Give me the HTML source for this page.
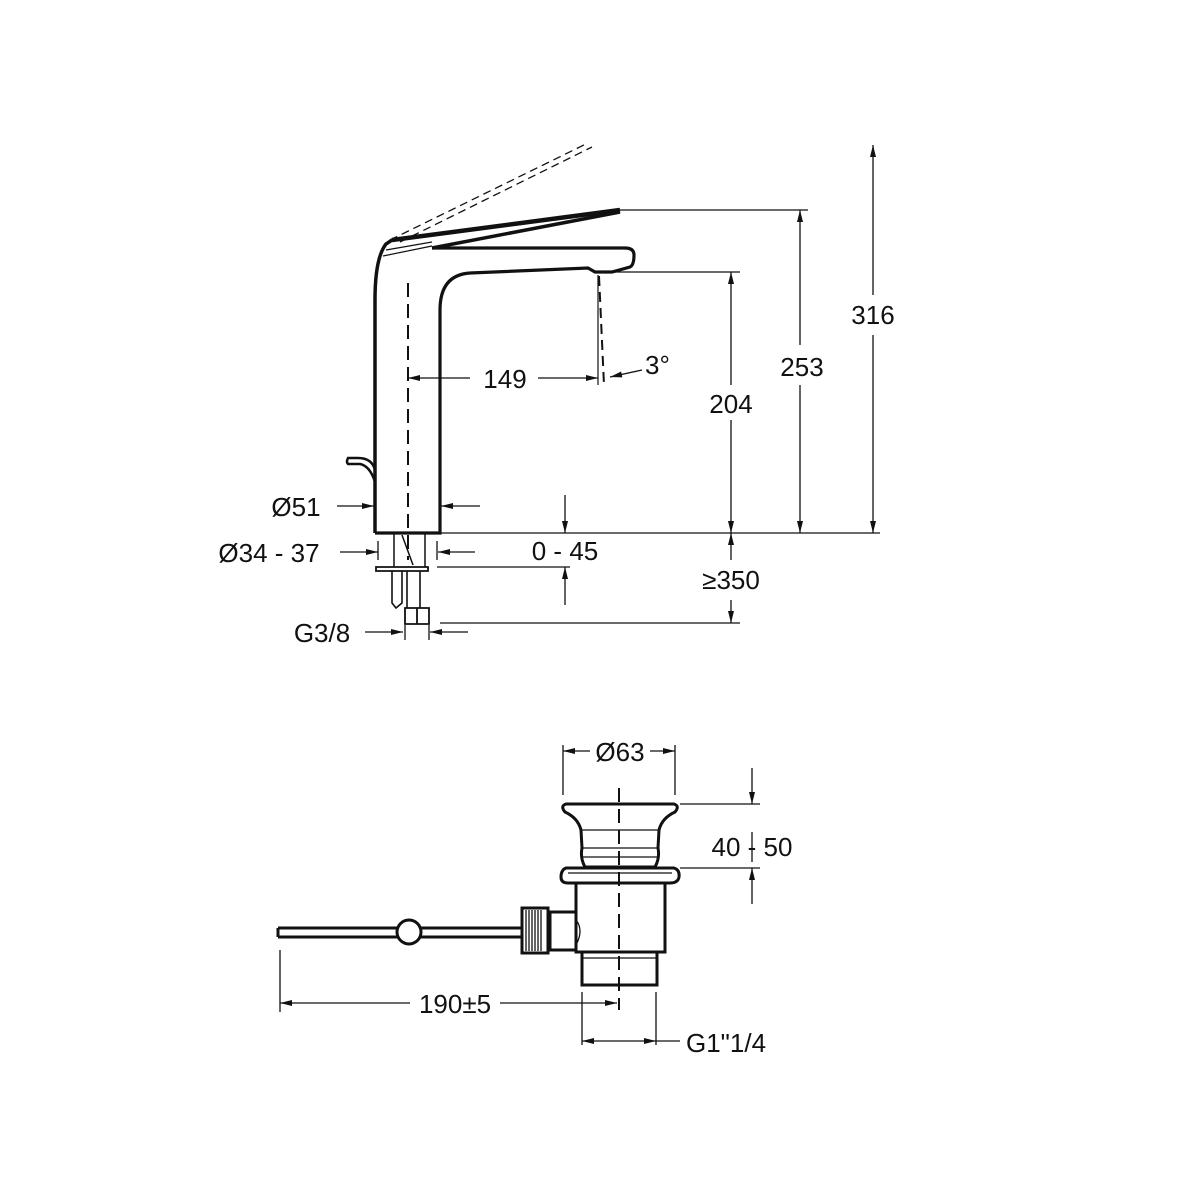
<!DOCTYPE html>
<html><head><meta charset="utf-8"><style>
html,body{margin:0;padding:0;background:#fff;}
svg{display:block;}
text{font-family:"Liberation Sans",sans-serif;font-size:26px;fill:#111;}
</style></head><body>
<svg width="1200" height="1200" viewBox="0 0 1200 1200" xmlns="http://www.w3.org/2000/svg">
<defs>
<marker id="a" viewBox="0 0 12 6" refX="12" refY="3" markerWidth="13" markerHeight="6" markerUnits="userSpaceOnUse" orient="auto"><path d="M0,0 L12,3 L0,6 Z" fill="#111"/></marker>
</defs>
<g fill="none" stroke="#111">
<path d="M375,533 L375,300 Q375,258 386,244 L392,240" stroke-width="3.5"/>
<path d="M375,533 L440,533 L440,310 Q440,275 470,273 L588,268 L595,272 L612,272 L630,267 Q634,265 634,255 Q634,248 625,248 L432,248" stroke-width="3.2"/>
<path d="M392,240 L620,210" stroke-width="4.5"/>
<path d="M432,248 L620,212" stroke-width="3.5"/>
<path d="M383,256 L432,246 M386,250 L432,242" stroke-width="1.2"/>
<path d="M390,240 L588,143 M400,242 L592,147" stroke-width="1.3" stroke-dasharray="8,5"/>
<path d="M375,470 Q372,458 358,458 L348,458 Q346,462 348,464 L360,464 Q370,466 375,482" stroke-width="2.5"/>
<path d="M408,283 L408,560" stroke-width="2" stroke-dasharray="14,7"/>
<path d="M598,275 L598,385" stroke-width="1.2"/>
<path d="M599,276 L604,385" stroke-width="2" stroke-dasharray="10,6"/>
<path d="M394,533 L394,567 M425,533 L425,567 M402,535 L413,565" stroke-width="1.5"/>
<path d="M376,567 L428,567 L428,571 L376,571 Z" stroke-width="1.8"/>
<path d="M392,571 L392,603 L396,608 L402,603 L402,571 M407,571 L407,608 M420,571 L420,608" stroke-width="1.6"/>
<path d="M405,608 L429,608 L429,624 L405,624 Z M417,608 L417,624" stroke-width="1.8"/>
<g stroke-width="1.3">
<path d="M620,210 L808,210 M612,272 L740,272 M440,533 L880,533 M437,567 L570,567 M440,623 L740,623"/>
<path d="M470,378 L408,378" marker-end="url(#a)"/>
<path d="M535,378 L598,378" marker-end="url(#a)"/>
<path d="M642,370 L610,377" marker-end="url(#a)"/>
<path d="M731,385 L731,272" marker-end="url(#a)"/>
<path d="M731,420 L731,533" marker-end="url(#a)"/>
<path d="M800,345 L800,210" marker-end="url(#a)"/>
<path d="M800,385 L800,533" marker-end="url(#a)"/>
<path d="M873,295 L873,145" marker-end="url(#a)"/>
<path d="M873,335 L873,533" marker-end="url(#a)"/>
<path d="M731,560 L731,533" marker-end="url(#a)"/>
<path d="M731,600 L731,623" marker-end="url(#a)"/>
<path d="M565,495 L565,533" marker-end="url(#a)"/>
<path d="M565,605 L565,567" marker-end="url(#a)"/>
<path d="M337,506 L374,506" marker-end="url(#a)"/>
<path d="M480,506 L441,506" marker-end="url(#a)"/>
<path d="M340,552 L378,552" marker-end="url(#a)"/>
<path d="M475,552 L438,552" marker-end="url(#a)"/>
<path d="M378,541 L378,560 M437,541 L437,560"/>
<path d="M365,632 L403,632" marker-end="url(#a)"/>
<path d="M468,632 L430,632" marker-end="url(#a)"/>
<path d="M405,625 L405,640 M429,625 L429,640"/>
</g>
<g stroke-width="3">
<path d="M566,804 L674,804 Q680,806 675,812 Q662,818 659,830 L658,848 Q660,858 655,867 L585,867 Q580,858 582,848 L581,830 Q578,818 565,812 Q560,806 566,804 Z"/>
<path d="M566,868 L674,868 Q680,870 679,877 Q678,883 670,883 L568,883 Q561,883 561,877 Q561,870 566,868 Z"/>
<path d="M576,883 L576,952 L665,952 L665,883"/>
<path d="M582,952 L582,985 L657,985 L657,952"/>
<path d="M576,912 L550,912 L550,950 L576,950"/>
<path d="M522,908 L548,908 L548,953 L522,953 Z"/>
<path d="M278,928 L522,928 M278,937 L522,937 M278,928 L278,937"/>
<circle cx="409" cy="932" r="12" fill="#fff"/>
</g>
<g stroke-width="1.3">
<path d="M581,830 L659,830 M582,848 L658,848 M583,857 L657,857 M568,873 L672,873 M582,958 L657,958 M576,920 Q584,930 576,945"/>
<path d="M526,910 L526,951 M529,910 L529,951 M532,910 L532,951 M535,910 L535,951 M538,910 L538,951 M541,910 L541,951"/>
<path d="M563,745 L563,795 M675,745 L675,795 M680,804 L760,804 M680,868 L760,868 M280,950 L280,1012 M582,992 L582,1045 M656,992 L656,1045"/>
<path d="M590,751 L563,751" marker-end="url(#a)"/>
<path d="M650,751 L675,751" marker-end="url(#a)"/>
<path d="M752,768 L752,804" marker-end="url(#a)"/>
<path d="M752,904 L752,868" marker-end="url(#a)"/>
<path d="M752,832 L752,862"/>
<path d="M410,1003 L280,1003" marker-end="url(#a)"/>
<path d="M500,1003 L617,1003" marker-end="url(#a)"/>
<path d="M620,1041 L582,1041" marker-end="url(#a)"/>
<path d="M620,1041 L656,1041" marker-end="url(#a)"/>
<path d="M656,1041 L680,1041"/>
</g>
<path d="M619,788 L619,1010" stroke-width="2" stroke-dasharray="14,7"/>
</g>
<g>
<rect x="472" y="362" width="66" height="30" fill="#fff"/>
<text x="505" y="388" text-anchor="middle">149</text>
<text x="645" y="374">3°</text>
<text x="731" y="413" text-anchor="middle">204</text>
<text x="802" y="376" text-anchor="middle">253</text>
<text x="873" y="324" text-anchor="middle">316</text>
<text x="296" y="516" text-anchor="middle">Ø51</text>
<text x="269" y="562" text-anchor="middle">Ø34 - 37</text>
<text x="565" y="560" text-anchor="middle">0 - 45</text>
<text x="731" y="589" text-anchor="middle">≥350</text>
<text x="322" y="642" text-anchor="middle">G3/8</text>
<text x="620" y="761" text-anchor="middle">Ø63</text>
<text x="752" y="856" text-anchor="middle">40 - 50</text>
<text x="455" y="1013" text-anchor="middle">190±5</text>
<text x="686" y="1052">G1"1/4</text>
</g>
</svg>
</body></html>
